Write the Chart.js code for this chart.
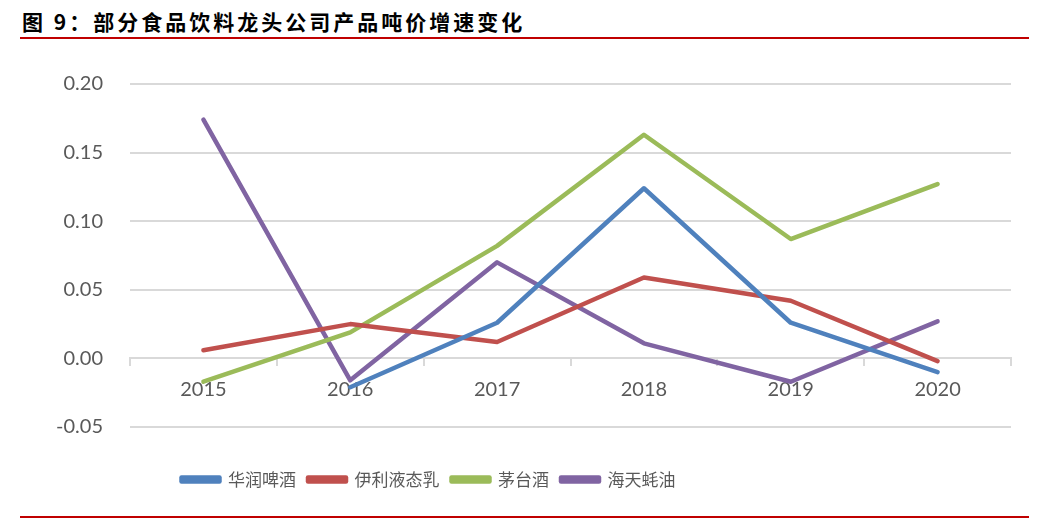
<!DOCTYPE html>
<html>
<head>
<meta charset="utf-8">
<script src="https://cdn.jsdelivr.net/npm/chart.js@4"></script>
<style>
  html, body { margin: 0; padding: 0; background: #fff; }
  body { width: 1050px; height: 521px; position: relative; overflow: hidden; }
  #title {
    position: absolute; left: 22px; top: 7px;
    font-family: "Noto Sans CJK SC", sans-serif; font-weight: bold;
    font-size: 21px; line-height: 28px; letter-spacing: 3px; color: #000;
  }
  .rule { position: absolute; left: 20px; width: 1009px; height: 2px; background: #c00000; }
  #wrap { position: absolute; left: 0; top: 40px; width: 1050px; height: 472px; }
</style>
</head>
<body>
<div id="title">图 9：部分食品饮料龙头公司产品吨价增速变化</div>
<div class="rule" style="top:37px"></div>
<div id="wrap"><canvas id="chart"></canvas></div>
<div class="rule" style="top:516px"></div>
<script>
const years = ["2015", "2016", "2017", "2018", "2019", "2020"];
const huarun = [null, -0.021, 0.026, 0.124, 0.026, -0.010];
const yili = [0.006, 0.025, 0.012, 0.059, 0.042, -0.002];
const maotai = [-0.017, 0.019, 0.082, 0.163, 0.087, 0.127];
const haitian = [0.174, -0.016, 0.070, 0.011, -0.017, 0.027];

const labelFont = { family: "Lato, 'Open Sans', sans-serif", size: 20 };
const gridColor = "#d9d9d9";
const textColor = "#595959";

// the legend in the picture sits left of centre and a bit lower
const legendShift = {
    id: "legendShift",
    afterLayout(chart){
        const l = chart.legend;
        l.left -= 87; l.right -= 87;
        l.top += 32; l.bottom += 32;
    }
};

function series(label, data, color){
    return {
        label: label,
        data: data,
        borderColor: color,
        backgroundColor: color,
        borderWidth: 4.5,
        pointRadius: 0,
        tension: 0,
        borderCapStyle: "round",
        borderJoinStyle: "round",
    };
}

new Chart(document.getElementById("chart"), {
    type: "line",
    data: {
        labels: years,
        datasets: [
            series("华润啤酒", huarun, "#4f81bd"),
            series("伊利液态乳", yili, "#c0504d"),
            series("茅台酒", maotai, "#9bbb59"),
            series("海天蚝油", haitian, "#8064a2"),
        ]
    },
    plugins: [legendShift],
    options: {
        responsive: true,
        maintainAspectRatio: false,
        animation: false,
        layout: { padding: { top: 44, left: 20, right: 39, bottom: 46 } },
        plugins: {
            tooltip: { enabled: false },
            legend: {
                position: "bottom",
                labels: {
                    boxWidth: 38,
                    boxHeight: 4,
                    padding: 12,
                    color: textColor,
                    font: { family: "'Noto Sans CJK SC', sans-serif", size: 17 },
                }
            }
        },
        scales: {
            x: {
                position: { y: 0 },
                offset: true,
                grid: {
                    offset: true,
                    drawOnChartArea: false,
                    drawTicks: true,
                    tickLength: 7,
                    color: gridColor,
                    lineWidth: 2,
                },
                border: { display: true, color: gridColor, width: 2 },
                ticks: { color: textColor, font: labelFont, padding: 12, maxRotation: 0 },
            },
            y: {
                min: -0.05,
                max: 0.2,
                afterFit: (scale) => { scale.width = 110; },
                grid: { color: gridColor, lineWidth: 2, drawTicks: false },
                border: { display: false },
                ticks: {
                    stepSize: 0.05,
                    padding: 27,
                    color: textColor,
                    font: labelFont,
                    callback: (v) => v.toFixed(2),
                },
            }
        }
    }
});
</script>
</body>
</html>
